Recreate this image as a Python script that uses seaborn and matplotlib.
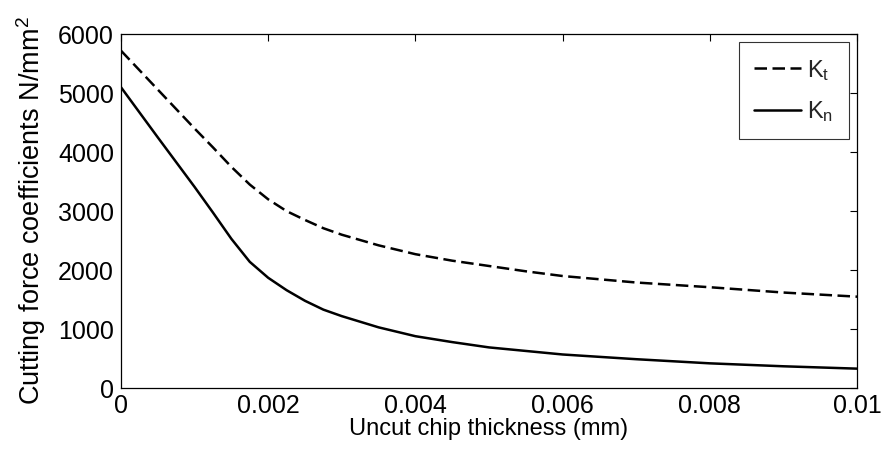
import matplotlib
matplotlib.use("Agg")
import matplotlib.pyplot as plt
import seaborn as sns
import pandas as pd

# Data
thickness = [0.0, 0.0005, 0.001, 0.00125, 0.0015, 0.00175, 0.002, 0.00225, 0.0025, 0.00275,
             0.003, 0.0035, 0.004, 0.0045, 0.005, 0.0055, 0.006, 0.007, 0.008, 0.009, 0.01]
Kt = [5720, 5060, 4400, 4080, 3750, 3450, 3200, 3000, 2850, 2710,
      2600, 2420, 2270, 2160, 2070, 1980, 1900, 1790, 1710, 1620, 1550]
Kn = [5100, 4250, 3410, 2975, 2530, 2140, 1870, 1660, 1480, 1330,
      1220, 1030, 880, 780, 690, 630, 570, 490, 420, 370, 330]
series_labels = ["K$_\\mathrm{t}$", "K$_\\mathrm{n}$"]
xticks = [0, 0.002, 0.004, 0.006, 0.008, 0.01]
xticklabels = ["0", "0.002", "0.004", "0.006", "0.008", "0.01"]
yticks = [0, 1000, 2000, 3000, 4000, 5000, 6000]

sns.set_theme(style="white")
plt.rcParams["font.family"] = ["Liberation Sans", "DejaVu Sans"]
plt.rcParams["mathtext.fontset"] = "custom"
plt.rcParams["mathtext.rm"] = "Liberation Sans"
plt.rcParams["mathtext.it"] = "Liberation Sans"

fig = plt.figure(figsize=(8.83, 4.55), dpi=100)
ax = fig.add_axes([0.137, 0.147, 0.8336, 0.778])

df = pd.DataFrame({"x": thickness * 2,
                   "y": Kt + Kn,
                   "s": [series_labels[0]] * len(thickness) + [series_labels[1]] * len(thickness)})

sns.lineplot(data=df[df.s == series_labels[0]], x="x", y="y", ax=ax, color="black",
             linewidth=1.8, linestyle=(0, (5, 2.2)), label=series_labels[0])
sns.lineplot(data=df[df.s == series_labels[1]], x="x", y="y", ax=ax, color="black",
             linewidth=1.8, linestyle="-", label=series_labels[1])

ax.set_xlim(0, 0.01)
ax.set_ylim(0, 6000)
ax.set_xticks(xticks)
ax.set_xticklabels(xticklabels)
ax.set_yticks(yticks)
fs_tick = 18
fs = 17
ax.tick_params(axis="both", which="both", direction="in", length=5, width=0.8,
               top=True, right=True, labelsize=fs_tick, colors="black", pad=4)
ax.tick_params(axis="y", pad=5)
for sp in ax.spines.values():
    sp.set_color("black")
    sp.set_linewidth(0.9)
ax.set_xlabel("Uncut chip thickness (mm)", fontsize=fs, color="black", labelpad=0)
ax.set_ylabel("Cutting force coefficients N/mm$^2$", fontsize=19.5, color="black", labelpad=7)

leg = ax.legend(loc="upper right", fontsize=fs, frameon=True, fancybox=False,
                edgecolor="black", handlelength=2.0, handletextpad=0.25,
                borderpad=0.65, labelspacing=0.7, borderaxespad=0.35)
leg.get_frame().set_linewidth(0.8)

fig.savefig("out.png", dpi=100, facecolor="white")
